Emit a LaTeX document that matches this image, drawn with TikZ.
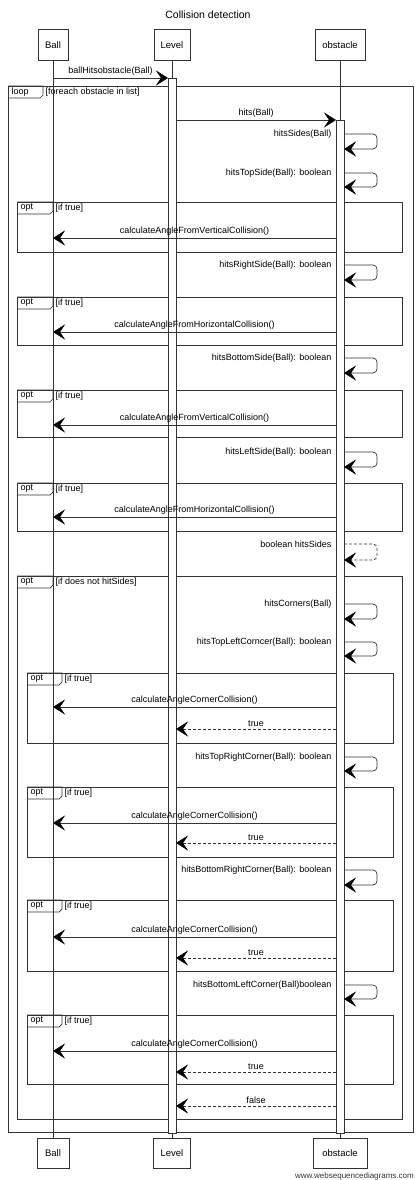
\documentclass[tikz,border=0pt]{standalone}
\usepackage{fontspec}
\setmainfont{Liberation Sans}
\usetikzlibrary{arrows.meta}
\tikzset{
  ln/.style={draw=black!80, line width=0.7pt},
  msg/.style={ln, -{Stealth[length=12pt,width=15pt,inset=5pt,black,fill=black,line width=0.4pt]}},
  ret/.style={msg, dash pattern=on 3pt off 2pt},
  lbl/.style={font=\fontsize{9}{10}\selectfont, inner sep=1.5pt},
  part/.style={draw=black!80, fill=white, line width=0.7pt, minimum height=31pt, inner sep=2pt, font=\fontsize{9.5}{11}\selectfont},
  bar/.style={draw=black!80, fill=white, line width=0.7pt},
  frm/.style={draw=black!80, line width=0.7pt},
}
% #1 name, #2 x from, #3 x to, #4 y, #5 label, #6 style
\newcommand\SeqMsg[6]{%
  \coordinate (#1s) at (#2,#4);
  \coordinate (#1e) at (#3,#4);
  \draw[#6] (#1s) -- node[lbl, above=1pt] (#1l) {#5} (#1e);
}
% #1 name, #2 top y, #3 bottom y, #4 label, #5 style
\newcommand\SeqSelf[5]{%
  \coordinate (#1s) at (344,#2);
  \coordinate (#1e) at (344,#3);
  \draw[#5, rounded corners=4pt] (#1s) -- ++(33,0) |- (#1e);
  \node[lbl, anchor=east] (#1l) at (333,#2) {#4};
}
% #1 name, #2 x0, #3 y0, #4 x1, #5 y1, #6 tag, #7 condition, #8 tag width
\newcommand\SeqFrame[8]{%
  \draw[frm] (#2,#3) rectangle (#4,#5);
  \draw[frm] (#2,#3) -- ++(#8,0) -- ++(0,9) -- ++(-3,3) -- (#2,#3+12);
  \node[lbl, anchor=west] (#1t) at (#2+2,#3+6) {#6};
  \node[lbl, anchor=west] (#1c) at (#2+#8+1,#3+6) {#7};
}
\begin{document}
\begin{tikzpicture}[x=1pt, y=-1pt]
\useasboundingbox (0,0) rectangle (417,1180);

\node[font=\fontsize{10.5}{12}\selectfont] (title) at (208,15) {Collision detection};

% participants
\node[part, minimum width=30pt] (ballT) at (53,45) {Ball};
\node[part, minimum width=36pt] (levelT) at (172,45) {Level};
\node[part, minimum width=50pt] (obsT) at (340,45) {obstacle};
\node[part, minimum width=32pt, minimum height=30pt] (ballB) at (53,1153) {Ball};
\node[part, minimum width=37pt, minimum height=30pt] (levelB) at (172,1153) {Level};
\node[part, minimum width=54pt, minimum height=30pt] (obsB) at (340,1153) {obstacle};

% frames
\SeqFrame{loop}{8}{86}{413}{1132}{loop}{[foreach obstacle in list]}{35}
\SeqFrame{optA}{17}{202}{402}{252}{opt}{[if true]}{36}
\SeqFrame{optB}{17}{297}{402}{345}{opt}{[if true]}{36}
\SeqFrame{optC}{17}{390}{402}{437}{opt}{[if true]}{36}
\SeqFrame{optD}{17}{483}{402}{531}{opt}{[if true]}{36}
\SeqFrame{optE}{17}{576}{402}{1119}{opt}{[if does not hitSides]}{36}
\SeqFrame{optF}{27}{673}{393}{743}{opt}{[if true]}{35}
\SeqFrame{optG}{27}{787}{393}{857}{opt}{[if true]}{35}
\SeqFrame{optH}{27}{900}{393}{971}{opt}{[if true]}{35}
\SeqFrame{optI}{27}{1015}{393}{1084}{opt}{[if true]}{35}

% lifelines
\draw[ln] (ballT) -- (ballB);
\draw[ln] (levelT) -- (levelB);
\draw[ln] (obsT) -- (obsB);

% activation bars
\draw[bar] (168,78) coordinate (levelBarTop) rectangle (176,1133) coordinate (levelBarBot);
\draw[bar] (336,120) coordinate (obsBarTop) rectangle (344,1133) coordinate (obsBarBot);

% messages
\SeqMsg{m1}{53}{168}{78}{ballHitsobstacle(Ball)}{msg}
\SeqMsg{m2}{176}{336}{120}{hits(Ball)}{msg}
\SeqSelf{s1}{134}{149}{hitsSides(Ball)}{msg}
\SeqSelf{s2}{173}{187}{hitsTopSide(Ball): boolean}{msg}
\SeqMsg{c1}{336}{53}{238}{calculateAngleFromVerticalCollision()}{msg}
\SeqSelf{s3}{265}{280}{hitsRightSide(Ball): boolean}{msg}
\SeqMsg{c2}{336}{53}{332}{calculateAngleFromHorizontalCollision()}{msg}
\SeqSelf{s4}{358}{373}{hitsBottomSide(Ball): boolean}{msg}
\SeqMsg{c3}{336}{53}{425}{calculateAngleFromVerticalCollision()}{msg}
\SeqSelf{s5}{452}{467}{hitsLeftSide(Ball): boolean}{msg}
\SeqMsg{c4}{336}{53}{517}{calculateAngleFromHorizontalCollision()}{msg}
\SeqSelf{s6}{544}{560}{boolean hitsSides}{ret}
\SeqSelf{s7}{604}{619}{hitsCorners(Ball)}{msg}
\SeqSelf{s8}{642}{656}{hitsTopLeftCorncer(Ball): boolean}{msg}
\SeqMsg{c5}{336}{53}{707}{calculateAngleCornerCollision()}{msg}
\SeqMsg{r1}{336}{176}{729}{true}{ret}
\SeqSelf{s9}{757}{771}{hitsTopRightCorner(Ball): boolean}{msg}
\SeqMsg{c6}{336}{53}{823}{calculateAngleCornerCollision()}{msg}
\SeqMsg{r2}{336}{176}{843}{true}{ret}
\SeqSelf{s10}{870}{885}{hitsBottomRightCorner(Ball): boolean}{msg}
\SeqMsg{c7}{336}{53}{937}{calculateAngleCornerCollision()}{msg}
\SeqMsg{r3}{336}{176}{958}{true}{ret}
\SeqSelf{s11}{985}{999}{hitsBottomLeftCorner(Ball)boolean}{msg}
\SeqMsg{c8}{336}{53}{1051}{calculateAngleCornerCollision()}{msg}
\SeqMsg{r4}{336}{176}{1072}{true}{ret}
\SeqMsg{r5}{336}{176}{1106}{false}{ret}

\node[anchor=east, font=\fontsize{8}{9}\selectfont, text=black!80, inner sep=1pt] (wm) at (415,1176) {www.websequencediagrams.com};
\end{tikzpicture}
\end{document}
